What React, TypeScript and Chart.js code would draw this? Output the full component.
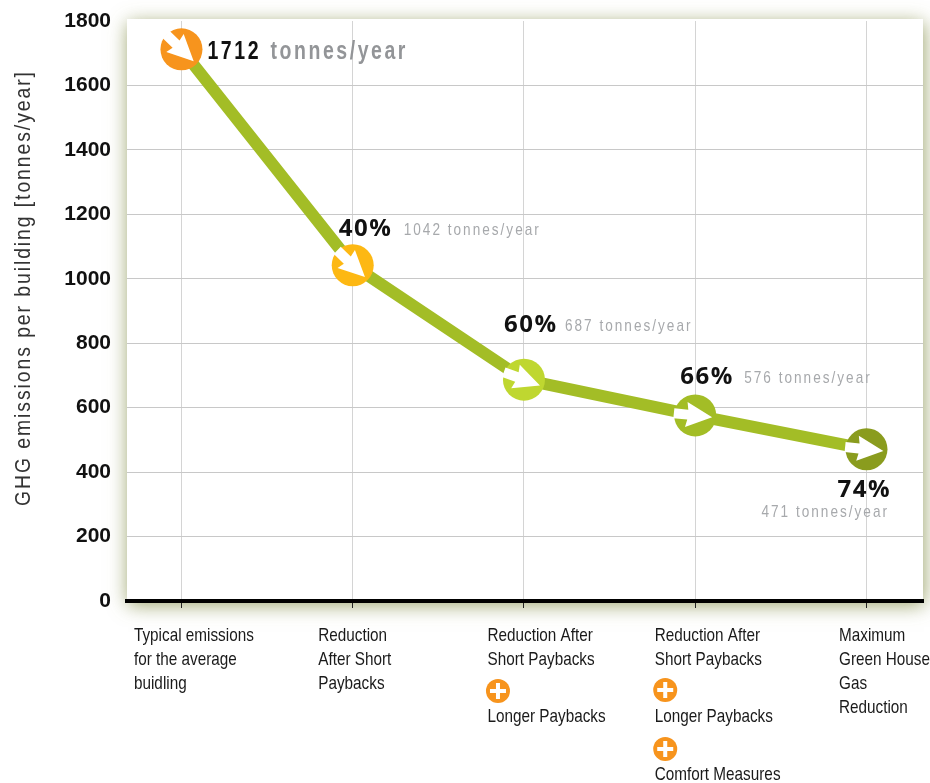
import React, { useEffect, useRef } from "react";
import { Chart, registerables } from "chart.js";

Chart.register(...registerables);

const categoryIndex = [0, 1, 2, 3, 4];
const emissions = [1712, 1042, 687, 576, 471];
const yTicks = [0, 200, 400, 600, 800, 1000, 1200, 1400, 1600, 1800];
const percentLabels = ["1712", "40%", "60%", "66%", "74%"];
const tonnesLabels = ["tonnes/year", "1042 tonnes/year", "687 tonnes/year", "576 tonnes/year", "471 tonnes/year"];
const categoryLines = [
  ["Typical emissions", "for the average", "buidling"],
  ["Reduction", "After Short", "Paybacks"],
  ["Reduction After", "Short Paybacks", "+", "Longer Paybacks"],
  ["Reduction After", "Short Paybacks", "+", "Longer Paybacks", "+", "Comfort Measures"],
  ["Maximum", "Green House", "Gas", "Reduction"],
];
const yTitle = "GHG emissions per building [tonnes/year]";

const markerColors = ["#f7941d", "#fdb813", "#bfd730", "#a3bd26", "#8a9c1e"];
const arrowAngles = [44, 44, 20, 6, 6];
const SANS = '"Liberation Sans", sans-serif';
const WIDE = '"Open Sans", "Liberation Sans", sans-serif';

// label placement relative to the marker: [big dx, big baseline dy, small dx, small baseline dy]
const labelOffsets = [
  [26, 10, 89, 10],
  [-14, -29, 51, -30],
  [-20, -48, 41, -49],
  [-15, -31, 49, -32],
  [-29, 48, -105, 68],
];
const columnLeft = [-47.5, -34.5, -36.5, -40.5, -27.5];
const rowCentre = [
  [636, 660, 684],
  [636, 660, 684],
  [636, 660, 691, 717],
  [636, 660, 690, 717, 749, 775],
  [636, 660, 684, 708],
];

function text(ctx: any, s: string, x: number, y: number, font: string, color: string, spacing: number, sx = 1, baseline = "alphabetic") {
  ctx.save();
  ctx.translate(x, y);
  ctx.scale(sx, 1);
  ctx.font = font;
  ctx.fillStyle = color;
  ctx.letterSpacing = spacing + "px";
  ctx.textAlign = "left";
  ctx.textBaseline = baseline;
  ctx.fillText(s, 0, 0);
  ctx.restore();
}

const cardPlugin = {
  id: "card",
  beforeDraw(chart: any) {
    const { ctx, chartArea: a } = chart;
    ctx.save();
    ctx.shadowColor = "rgba(130,140,70,0.8)";
    ctx.shadowBlur = 18;
    ctx.shadowOffsetX = 1;
    ctx.shadowOffsetY = 4;
    ctx.fillStyle = "#fff";
    ctx.fillRect(a.left, a.top - 2, a.right - a.left, a.bottom - a.top + 2);
    ctx.restore();
  },
};

const decorPlugin = {
  id: "decor",
  afterDatasetsDraw(chart: any) {
    const { ctx } = chart;
    const pts = chart.getDatasetMeta(0).data;
    const xs = chart.scales.x;
    ctx.save();
    pts.forEach((p: any, i: number) => {
      ctx.save();
      ctx.translate(p.x, p.y);
      ctx.rotate((arrowAngles[i] * Math.PI) / 180);
      ctx.fillStyle = "#fff";
      ctx.beginPath();
      ctx.moveTo(-21.5, -5);
      ctx.lineTo(-7.5, -5);
      ctx.lineTo(-9, -12.5);
      ctx.lineTo(17, 0);
      ctx.lineTo(-9, 12.5);
      ctx.lineTo(-7.5, 5);
      ctx.lineTo(-21.5, 5);
      ctx.closePath();
      ctx.fill();
      ctx.restore();

      const o = labelOffsets[i];
      if (i === 0) {
        text(ctx, percentLabels[i], p.x + o[0], p.y + o[1], `bold 26px ${SANS}`, "#111", 3.4, 0.75);
        text(ctx, tonnesLabels[i], p.x + o[2], p.y + o[3], `bold 26px ${SANS}`, "#939598", 3.4, 0.75);
      } else {
        text(ctx, percentLabels[i], p.x + o[0], p.y + o[1], `bold 24px ${WIDE}`, "#111", 1.5);
        text(ctx, tonnesLabels[i], p.x + o[2], p.y + o[3], `17px ${SANS}`, "#a7a9ac", 2.5, 0.8);
      }
    });

    categoryLines.forEach((lines, i) => {
      const left = xs.getPixelForValue(categoryIndex[i]) + columnLeft[i];
      lines.forEach((line, j) => {
        const y = rowCentre[i][j];
        if (line === "+") {
          const cx = left + 10.5;
          ctx.fillStyle = "#f7941d";
          ctx.beginPath();
          ctx.arc(cx, y, 12, 0, Math.PI * 2);
          ctx.fill();
          ctx.fillStyle = "#fff";
          ctx.fillRect(cx - 8, y - 2, 16, 4);
          ctx.fillRect(cx - 2, y - 8, 4, 16);
        } else {
          text(ctx, line, left, y, `19px ${SANS}`, "#1a1a1a", 0, 0.805, "middle");
        }
      });
    });

    ctx.translate(24, 288);
    ctx.rotate(-Math.PI / 2);
    ctx.scale(0.88, 1);
    ctx.textAlign = "center";
    ctx.textBaseline = "middle";
    ctx.font = `22px ${SANS}`;
    ctx.fillStyle = "#333";
    ctx.letterSpacing = "2.2px";
    ctx.fillText(yTitle, 0, 0);
    ctx.restore();
  },
};

export default function App() {
  const ref = useRef<HTMLCanvasElement>(null);
  useEffect(() => {
    const chart = new Chart(ref.current!, {
      type: "line",
      data: {
        datasets: [
          {
            data: categoryIndex.map((x, i) => ({ x, y: emissions[i] })),
            borderColor: "#a3bd26",
            borderWidth: 12,
            tension: 0,
            pointRadius: 21,
            pointBorderWidth: 0,
            pointBackgroundColor: markerColors,
            clip: false,
          },
        ],
      },
      plugins: [cardPlugin, decorPlugin],
      options: {
        responsive: false,
        animation: false,
        devicePixelRatio: 1,
        layout: { autoPadding: false, padding: { top: 21, right: 7, left: 0, bottom: 0 } },
        plugins: { legend: { display: false }, tooltip: { enabled: false } },
        scales: {
          x: {
            type: "linear",
            min: -0.318,
            max: 4.33,
            afterBuildTicks: (s: any) => {
              s.ticks = categoryIndex.map((value) => ({ value }));
            },
            afterFit: (s: any) => {
              s.height = 182;
            },
            border: { display: true, width: 4, color: "#000" },
            grid: { color: "#d4d4d4", lineWidth: 1, drawTicks: true, tickLength: 7, tickColor: "#222" },
            ticks: { display: false },
          },
          y: {
            min: 0,
            max: 1800,
            afterBuildTicks: (s: any) => {
              s.ticks = yTicks.map((value) => ({ value }));
            },
            afterFit: (s: any) => {
              s.width = 127;
            },
            border: { display: false },
            grid: {
              drawTicks: true,
              tickLength: 16,
              tickColor: "rgba(0,0,0,0)",
              color: (c: any) => (c.tick && c.tick.value === 1800 ? "rgba(0,0,0,0)" : "#c8c8c8"),
            },
            ticks: {
              padding: 0,
              color: "#111",
              font: { family: "Liberation Sans", size: 21, weight: "bold" },
              callback: (v: any) => String(v),
            },
          },
        },
      },
    } as any);
    return () => chart.destroy();
  }, []);
  return (
    <canvas
      ref={ref}
      width={930}
      height={783}
      style={{ position: "absolute", left: 0, top: 0, display: "block", width: 930, height: 783 }}
    />
  );
}
